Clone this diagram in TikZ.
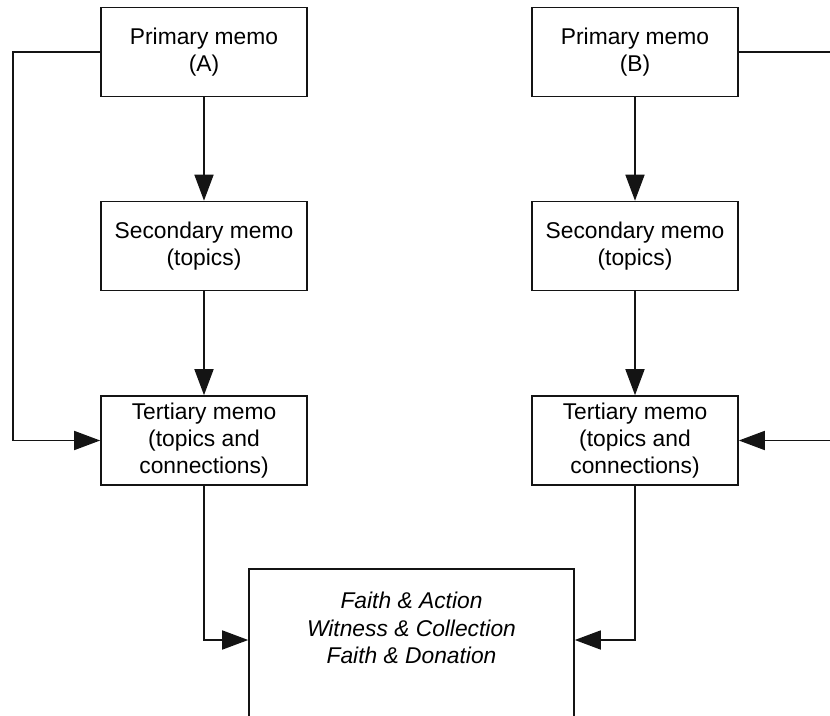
\documentclass[tikz,border=0pt]{standalone}
\usepackage{fontspec}
\setmainfont{Liberation Sans}
\usetikzlibrary{arrows.meta}
\begin{document}
\begin{tikzpicture}[x=1pt,y=-1pt,
  memo/.style={draw=black!92, line width=1.6pt, fill=white, minimum width=206pt, minimum height=89pt,
    inner sep=0pt, align=center, font=\fontsize{22.8}{27}\selectfont},
  conn/.style={draw=black!92, line width=1.6pt},
  arr/.style={conn, -{Triangle[length=26pt,width=19pt]}}]
\clip (0,0) rectangle (830,715);
\fill[white] (0,0) rectangle (830,715);
\node[memo] (A1) at (204,52) {Primary memo\\(A)};
\node[memo] (A2) at (204,246) {Secondary memo\\(topics)};
\node[memo] (A3) at (204,440.5) {Tertiary memo\\(topics and\\connections)};
\node[memo] (B1) at (635,52) {Primary memo\\(B)};
\node[memo] (B2) at (635,246) {Secondary memo\\(topics)};
\node[memo] (B3) at (635,440.5) {Tertiary memo\\(topics and\\connections)};
\node[memo, minimum width=325pt, minimum height=200pt, anchor=north] (F) at (411.5,568) {};
\node[align=center, inner sep=0pt, font=\fontsize{22.8}{27.5}\selectfont\itshape] (Ft) at (411.5,628)
  {Faith \& Action\\Witness \& Collection\\Faith \& Donation};
\coordinate (Rc) at (845,52);
\draw[arr] (A1) -- (A2);
\draw[arr] (A2) -- (A3);
\draw[arr] (B1) -- (B2);
\draw[arr] (B2) -- (B3);
\draw[arr] (A1.west) -- ++(-87,0) |- (A3.west);
\draw[arr] (B1.east) -- (Rc) |- (B3.east);
\draw[arr] (A3.south) |- ([yshift=-72pt]F.north east -| F.north west);
\draw[arr] (B3.south) |- ([yshift=-72pt]F.north east);
\end{tikzpicture}
\end{document}
